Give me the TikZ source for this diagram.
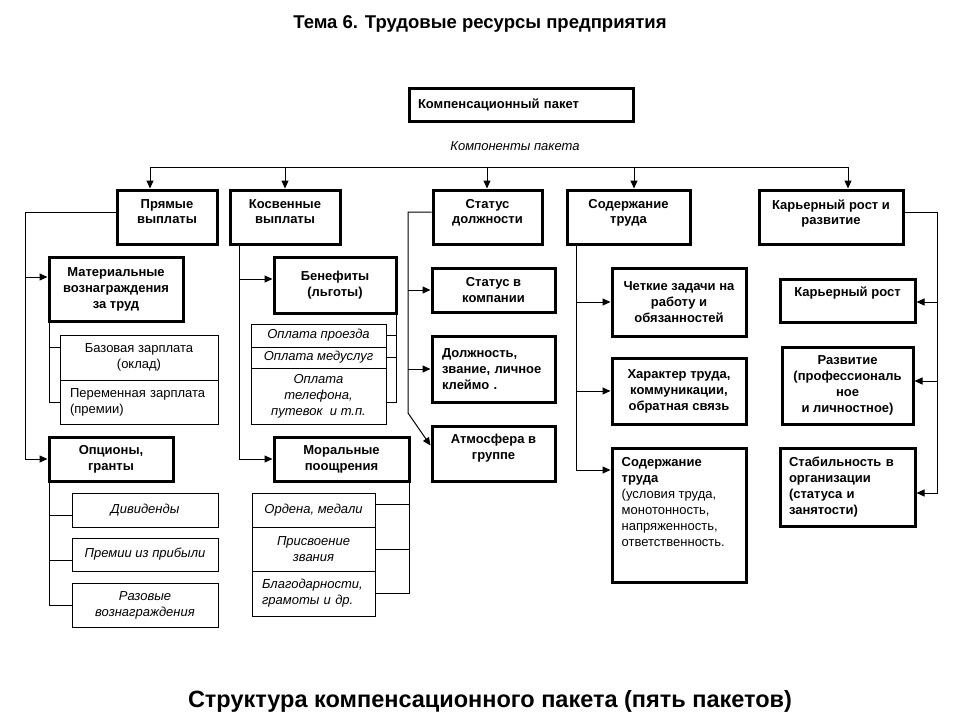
\documentclass[tikz,border=0pt]{standalone}
\usepackage{fontspec}
\setmainfont{Liberation Sans}
\usetikzlibrary{arrows.meta}
\begin{document}
\begin{tikzpicture}[x=1pt,y=-1pt,
  every node/.style={font=\fontsize{13}{16}\selectfont},
  thk/.style={draw, line width=3pt, inner sep=0pt, align=center, font=\bfseries\fontsize{13}{16}\selectfont},
  thn/.style={draw, line width=1pt, inner sep=0pt, align=center},
  itl/.style={font=\itshape\fontsize{13}{16}\selectfont},
  lab1/.style={anchor=north, inner sep=0pt, yshift=-11pt, align=center, font=\bfseries\fontsize{13}{15}\selectfont},
  arr/.style={-{Triangle[length=8pt,width=7pt]}, line width=1pt},
  ln/.style={line width=1pt}]
\useasboundingbox (0,0) rectangle (960,720);
\fill[white] (0,0) rectangle (960,720);

% titles
\node[font=\bfseries\fontsize{18.5}{22}\selectfont] (t1) at (480,24) {Тема 6. Трудовые ресурсы предприятия};
\node[font=\bfseries\fontsize{23.5}{28}\selectfont] (t2) at (490,701) {Структура компенсационного пакета (пять пакетов)};

% top
\node[thk, minimum width=224pt, minimum height=33pt, text width=206pt, align=left] (cp) at (521,104.5) {Компенсационный пакет};
\node[itl] (kp) at (515,146) {Компоненты пакета};

% level 1
\node[thk, minimum width=100pt, minimum height=54pt, label={[lab1]north:{Прямые\\выплаты}}] (pv) at (167,217) {};
\node[thk, minimum width=110pt, minimum height=54pt, label={[lab1]north:{Косвенные\\выплаты}}] (kv) at (285,217) {};
\node[thk, minimum width=109pt, minimum height=54pt, label={[lab1]north:{Статус\\должности}}] (sd) at (487.5,217) {};
\node[thk, minimum width=123pt, minimum height=54pt, label={[lab1]north:{Содержание\\труда}}] (st) at (628.5,217) {};
\node[thk, minimum width=144pt, minimum height=54pt, label={[lab1]north:{Карьерный рост и\\развитие}}] (kr) at (831,217) {};

\coordinate (h1) at (150,167);
\coordinate (h2) at (285,167);
\coordinate (h3) at (487,167);
\coordinate (h4) at (634,167);
\coordinate (h5) at (848,167);
\draw[ln] (h1) -- (h5);
\draw[arr] (h1) -- (h1 |- pv.north);
\draw[arr] (h2) -- (h2 |- kv.north);
\draw[arr] (h3) -- (h3 |- sd.north);
\draw[arr] (h4) -- (h4 |- st.north);
\draw[arr] (h5) -- (h5 |- kr.north);

% column 1
\node[thk, minimum width=134pt, minimum height=64pt] (mat) at (116,289) {Материальные\\вознаграждения\\за труд};
\node[thk, minimum width=124pt, minimum height=44pt] (opc) at (111,459) {Опционы,\\гранты};
\node[thn, minimum width=158pt, minimum height=45pt] (bz) at (139,357.5) {Базовая зарплата\\(оклад)};
\node[thn, minimum width=158pt, minimum height=44pt, text width=138pt, align=left] (pz) at (139,402) {Переменная зарплата\\(премии)};
\node[thn, itl, minimum width=146pt, minimum height=34pt] (div) at (145,510) {Дивиденды};
\node[thn, itl, minimum width=146pt, minimum height=33pt] (pre) at (145,554.5) {Премии из прибыли};
\node[thn, itl, minimum width=146pt, minimum height=44pt] (rv) at (145,605) {Разовые\\вознаграждения};

\draw[arr] ([yshift=5pt]pv.west) -| ([xshift=-22pt]opc.west) -- (opc.west);
\draw[arr] ([xshift=-22pt,yshift=12pt]mat.west) -- ([yshift=12pt]mat.west);
\draw[ln] ([xshift=1.5pt]mat.south west) |- ([yshift=10pt]bz.west);
\draw[ln] ([xshift=1.5pt]mat.south west) |- (pz.west);
\draw[ln] ([xshift=1.5pt]opc.south west) |- ([yshift=-5pt]div.west);
\draw[ln] ([xshift=1.5pt]opc.south west) |- ([yshift=-5.5pt]pre.west);
\draw[ln] ([xshift=1.5pt]opc.south west) |- (rv.west);

% column 2
\node[thk, minimum width=122pt, minimum height=56pt] (ben) at (335,285) {Бенефиты\\(льготы)};
\node[thk, minimum width=135pt, minimum height=44pt] (mor) at (341.5,459) {Моральные\\поощрения};
\node[thn, itl, minimum width=135pt, minimum height=23pt] (op1) at (318.5,335.5) {Оплата проезда};
\node[thn, itl, minimum width=135pt, minimum height=21pt] (op2) at (318.5,357.5) {Оплата медуслуг};
\node[thn, itl, minimum width=135pt, minimum height=56pt] (op3) at (318.5,396) {Оплата\\телефона,\\путевок\ \ и т.п.};
\node[thn, itl, minimum width=123pt, minimum height=34pt] (or1) at (313.5,510) {Ордена, медали};
\node[thn, itl, minimum width=123pt, minimum height=44pt] (or2) at (313.5,549) {Присвоение\\звания};
\node[thn, itl, minimum width=123pt, minimum height=45pt, text width=103pt, align=left] (or3) at (313.5,593.5) {Благодарности,\\грамоты и др.};

\draw[arr] ([xshift=11pt]kv.south west) |- (mor.west);
\draw[arr] ([xshift=11pt]kv.south west) |- ([yshift=6pt]ben.west);
\draw[ln] ([xshift=-1.5pt]ben.south east) |- (op1.east);
\draw[ln] ([xshift=-1.5pt]ben.south east) |- (op2.east);
\draw[ln] ([xshift=-1.5pt]ben.south east) |- ([yshift=-6pt]op3.east);
\draw[ln] ([xshift=-1.5pt]mor.south east) |- ([yshift=6pt]or1.east);
\draw[ln] ([xshift=-1.5pt]mor.south east) |- (or2.east);
\draw[ln] ([xshift=-1.5pt]mor.south east) |- (or3.east);

% column 3
\node[thk, minimum width=123pt, minimum height=44pt] (sk) at (493.5,290) {Статус в\\компании};
\node[thk, minimum width=123pt, minimum height=66pt, text width=103pt, align=left] (dol) at (493.5,369) {Должность,\\звание, личное\\клеймо .};
\node[thk, minimum width=123pt, minimum height=55pt, label={[lab1, yshift=2pt, font=\bfseries\fontsize{13}{16}\selectfont]north:{Атмосфера в\\группе}}] (atm) at (493.5,453.5) {};
\coordinate (sdk) at (408,413);
\draw[arr] ([yshift=5pt]sd.west) -| (sdk) -- ([yshift=8pt]atm.west);
\draw[arr] (sdk |- sk.west) -- (sk.west);
\draw[arr] (sdk |- dol.west) -- (dol.west);

% column 4
\node[thk, minimum width=134pt, minimum height=68pt] (chz) at (679,302) {Четкие задачи на\\работу и\\обязанностей};
\node[thk, minimum width=134pt, minimum height=66pt] (har) at (679,391) {Характер труда,\\коммуникации,\\обратная связь};
\node[thk, minimum width=134pt, minimum height=134pt, label={[anchor=north west, inner sep=0pt, xshift=11pt, yshift=-10.5pt, align=left, font=\fontsize{13}{16}\selectfont]north west:{\textbf{Содержание}\\\textbf{труда}\\(условия труда,\\монотонность,\\напряженность,\\ответственность.}}] (sod) at (679,515) {};
\draw[arr] ([xshift=11pt]st.south west) |- (chz.west);
\draw[arr] ([xshift=11pt]st.south west) |- (har.west);
\draw[arr] ([xshift=11pt]st.south west) |- ([yshift=45pt]sod.west);

% column 5
\node[thk, minimum width=135pt, minimum height=43pt, label={[lab1, yshift=1.5pt]north:{Карьерный рост}}] (kar) at (847.5,300.5) {};
\node[thk, minimum width=131pt, minimum height=77pt] (raz) at (847.5,385.5) {Развитие\\(профессиональ\\ное\\ и личностное)};
\node[thk, minimum width=135pt, minimum height=78pt, text width=117pt, align=left] (stb) at (847.5,487) {Стабильность в\\организации\\(статуса и\\занятости)};
\draw[arr] ([yshift=5pt]kr.east) -| ([xshift=21pt,yshift=-6pt]stb.east) -- ([yshift=-6pt]stb.east);
\draw[arr] ([xshift=21pt,yshift=-1.5pt]kar.east) -- ([yshift=-1.5pt]kar.east);
\draw[arr] ([xshift=23pt,yshift=4.5pt]raz.east) -- ([yshift=4.5pt]raz.east);
\end{tikzpicture}
\end{document}
